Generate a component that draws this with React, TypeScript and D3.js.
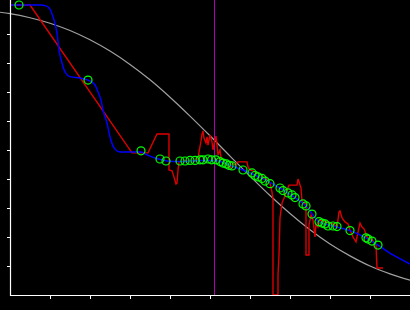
import React from "react";
import * as d3 from "d3";

// Gray reference curve (x, value)
const grayX = [-0.25, 0, 0.5, 1, 1.5, 2, 2.5, 3, 3.5, 4, 4.5, 5, 5.5, 6, 6.5, 7, 7.5, 8, 8.5, 9, 9.5, 10];
const grayY = [9.75, 9.7, 9.56, 9.37, 9.12, 8.8, 8.41, 7.95, 7.42, 6.82, 6.17, 5.49, 4.79, 4.1, 3.43, 2.81, 2.25, 1.76, 1.35, 1.0, 0.73, 0.51];

// Blue smoothed series
const blueX = [0, 0.5, 0.75, 0.9, 1.0, 1.075, 1.175, 1.225, 1.3, 1.375, 1.5, 1.75, 1.95, 2.125, 2.2, 2.275, 2.325, 2.425, 2.5, 2.625, 2.75, 3.275, 3.425, 3.7, 3.925, 4.25, 4.75, 5.125, 5.375, 5.55, 5.825, 6.3, 6.75, 7.125, 7.4, 7.725, 8.075, 8.5, 8.9, 9.2, 9.575, 10];
const blueY = [10, 10, 10, 9.97, 9.86, 9.59, 9.03, 8.45, 8.0, 7.69, 7.53, 7.48, 7.41, 7.24, 7.0, 6.72, 6.38, 5.93, 5.45, 5.03, 4.93, 4.93, 4.83, 4.69, 4.62, 4.6, 4.64, 4.64, 4.55, 4.45, 4.31, 4.02, 3.69, 3.36, 3.07, 2.53, 2.38, 2.22, 1.97, 1.72, 1.38, 1.07];

// Red raw series
const redX = [0, 0.5, 3.05, 3.45, 3.675, 3.975, 3.975, 4.05, 4.1, 4.15, 4.175, 4.2, 4.225, 4.375, 4.625, 4.7, 4.725, 4.775, 4.8, 4.825, 4.85, 4.9, 4.925, 4.95, 5.0, 5.05, 5.075, 5.1, 5.15, 5.175, 5.2, 5.25, 5.275, 5.325, 5.375, 5.45, 5.5, 5.575, 5.625, 5.7, 5.925, 5.95, 6.0, 6.15, 6.3, 6.325, 6.425, 6.5, 6.55, 6.575, 6.575, 6.7, 6.7, 6.725, 6.75, 6.8, 6.85, 6.925, 6.975, 7.175, 7.2, 7.25, 7.275, 7.3, 7.4, 7.4, 7.475, 7.475, 7.525, 7.575, 7.625, 7.65, 7.7, 7.75, 7.875, 8.075, 8.175, 8.225, 8.25, 8.3, 8.375, 8.45, 8.5, 8.575, 8.65, 8.7, 8.75, 8.8, 8.85, 8.925, 9.05, 9.15, 9.175, 9.325];
const redY = [10, 10, 4.9, 4.9, 5.55, 5.55, 4.31, 4.28, 4.07, 3.83, 3.86, 4.31, 4.59, 4.62, 4.62, 4.66, 4.93, 5.31, 5.55, 5.66, 5.41, 5.24, 5.45, 5.17, 5.52, 5.28, 5.0, 5.21, 5.48, 5.17, 4.83, 5.0, 4.72, 4.66, 4.55, 4.48, 4.38, 4.55, 4.48, 4.59, 4.59, 4.41, 4.31, 4.24, 4.14, 4.03, 3.97, 3.86, 3.55, 3.28, 0, 0, 0.69, 1.38, 2.66, 3.17, 3.34, 3.62, 3.79, 3.79, 4.0, 3.79, 3.69, 3.21, 3.14, 1.38, 1.38, 2.41, 2.76, 2.59, 2.0, 2.45, 2.34, 2.59, 2.52, 2.45, 2.34, 2.86, 2.9, 2.66, 2.52, 2.45, 2.24, 2.0, 1.83, 2.17, 2.48, 2.34, 2.28, 2.0, 1.9, 1.72, 0.93, 0.93];

// Green observation markers
const ptX = [0.225, 1.95, 3.275, 3.75, 3.9, 4.25, 4.375, 4.5, 4.625, 4.75, 4.825, 4.95, 5.04, 5.15, 5.25, 5.325, 5.41, 5.475, 5.55, 5.825, 6.05, 6.125, 6.2, 6.3, 6.375, 6.5, 6.75, 6.825, 6.95, 7.05, 7.125, 7.325, 7.4, 7.55, 7.725, 7.8, 7.875, 7.95, 8.075, 8.175, 8.5, 8.9, 8.95, 9.05, 9.2];
const ptY = [10, 7.41, 4.97, 4.69, 4.62, 4.62, 4.62, 4.64, 4.64, 4.66, 4.66, 4.69, 4.66, 4.66, 4.6, 4.55, 4.52, 4.47, 4.45, 4.31, 4.21, 4.12, 4.07, 4.02, 3.93, 3.84, 3.69, 3.6, 3.52, 3.45, 3.36, 3.14, 3.07, 2.79, 2.53, 2.48, 2.45, 2.38, 2.38, 2.36, 2.22, 1.97, 1.93, 1.86, 1.72];

const markerX = 5.1;
const tickValues = [1, 2, 3, 4, 5, 6, 7, 8, 9];

const W = 410;
const H = 310;

export default function App() {
  React.useEffect(() => {
    document.body.style.margin = "0";
    document.body.style.background = "#000";
  }, []);

  const x = d3.scaleLinear().domain([0, 10]).range([10, 410]);
  const y = d3.scaleLinear().domain([0, 10]).range([295, 5]);

  const zip = (xs: number[], ys: number[]) => xs.map((v, i) => [v, ys[i]] as [number, number]);

  const straight = d3.line<[number, number]>().x((d) => x(d[0])).y((d) => y(d[1]));
  const smooth = d3
    .line<[number, number]>()
    .x((d) => x(d[0]))
    .y((d) => y(d[1]))
    .curve(d3.curveMonotoneX);

  const grayPath = smooth(zip(grayX, grayY)) || "";
  const bluePath = smooth(zip(blueX, blueY)) || "";
  const redPath = straight(zip(redX, redY)) || "";
  const pts = zip(ptX, ptY);
  const mx = Math.round(x(markerX)) + 0.5;

  return (
    <svg
      width={W}
      height={H}
      style={{ position: "fixed", left: 0, top: 0, display: "block", background: "#000" }}
    >
      <rect x={0} y={0} width={W} height={H} fill="#000" />
      <path d={grayPath} fill="none" stroke="#a0a0a0" strokeWidth={1.2} />
      <line x1={mx} x2={mx} y1={0} y2={295} stroke="#b000b0" strokeWidth={1} />
      <path d={redPath} fill="none" stroke="#dd0000" strokeWidth={1.4} />
      <path d={bluePath} fill="none" stroke="#0000ff" strokeWidth={1.5} />
      {pts.map((p, i) => (
        <circle key={i} cx={x(p[0])} cy={y(p[1])} r={4} fill="none" stroke="#00ff00" strokeWidth={1.2} />
      ))}
      {/* axes */}
      <line x1={10.5} x2={10.5} y1={0} y2={296} stroke="#fff" strokeWidth={1.2} />
      <line x1={10} x2={410} y1={295.5} y2={295.5} stroke="#fff" strokeWidth={1.2} />
      {tickValues.map((t) => (
        <line key={"yt" + t} x1={7} x2={10} y1={Math.round(y(t)) + 0.5} y2={Math.round(y(t)) + 0.5} stroke="#fff" strokeWidth={1} />
      ))}
      {tickValues.map((t) => (
        <line key={"xt" + t} x1={Math.round(x(t)) + 0.5} x2={Math.round(x(t)) + 0.5} y1={296} y2={299} stroke="#fff" strokeWidth={1} />
      ))}
    </svg>
  );
}
